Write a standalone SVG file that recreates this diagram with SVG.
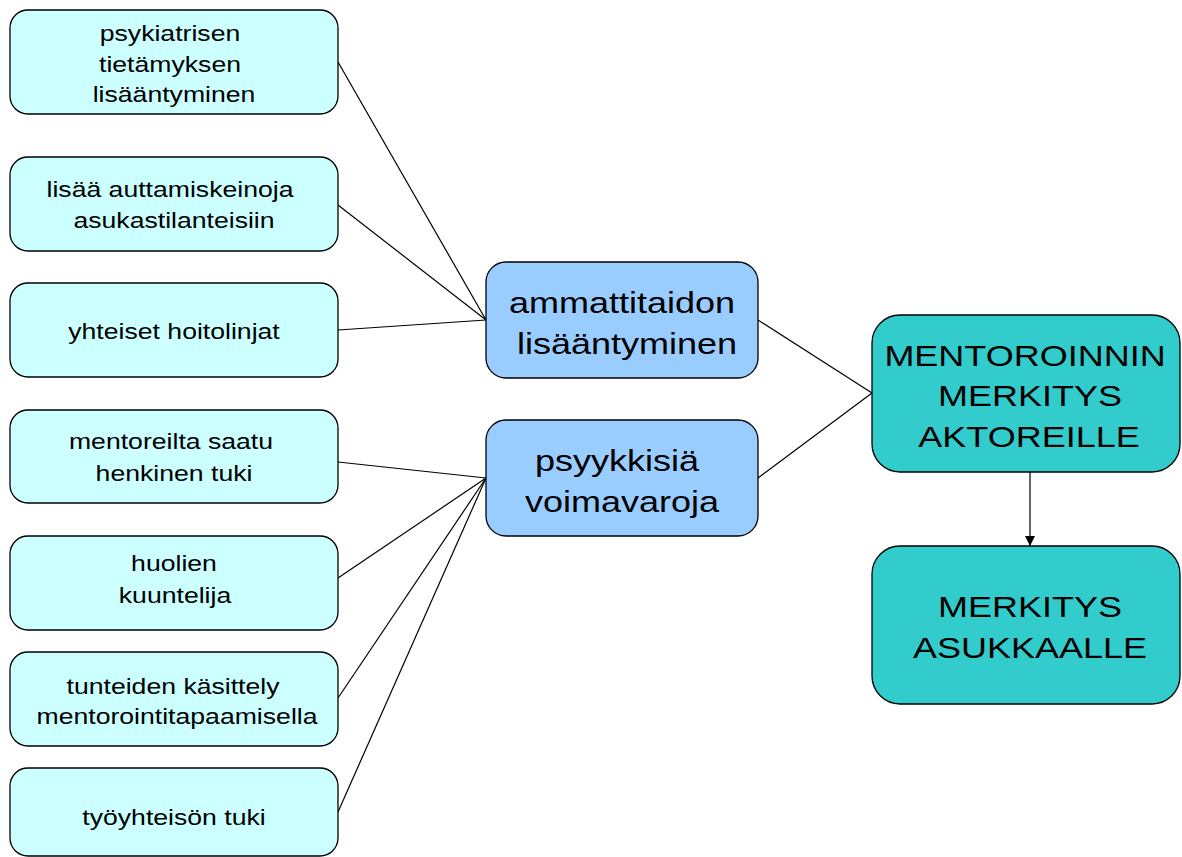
<svg xmlns="http://www.w3.org/2000/svg" width="1182" height="857" viewBox="0 0 1182 857">
<style>
.l{fill:#ccffff;stroke:#000;stroke-width:1.3}
.m{fill:#99ccff;stroke:#000;stroke-width:1.3}
.r{fill:#33cccc;stroke:#000;stroke-width:1.3}
text{font-family:"Liberation Sans",Arial,sans-serif;text-anchor:middle;fill:#000}
.ts{font-size:22px}
.tb{font-size:30px}
.c line{stroke:#000;stroke-width:1.2}
</style>
<defs>
<marker id="ah" viewBox="0 0 10 10" refX="10" refY="5" markerWidth="10" markerHeight="10" markerUnits="userSpaceOnUse" orient="auto"><path d="M0,0L10,5L0,10z" fill="#000"/></marker>
</defs>
<rect width="1182" height="857" fill="#fff"/>
<g class="c">
<line x1="338" y1="62" x2="486" y2="320"/>
<line x1="338" y1="205" x2="486" y2="320"/>
<line x1="338" y1="330" x2="486" y2="320"/>
<line x1="338" y1="462" x2="486" y2="478"/>
<line x1="338" y1="578" x2="486" y2="478"/>
<line x1="338" y1="698" x2="486" y2="478"/>
<line x1="338" y1="812" x2="486" y2="478"/>
<line x1="758" y1="320" x2="872" y2="393"/>
<line x1="758" y1="478" x2="872" y2="393"/>
<line x1="1030" y1="472" x2="1030" y2="546" marker-end="url(#ah)"/>
</g>
<g id="n1"><rect class="l" x="10" y="10" width="328" height="104" rx="18"/>
<text class="ts" transform="matrix(1.21 0 0 1 170 41)">psykiatrisen</text><text class="ts" transform="matrix(1.21 0 0 1 170 72)">tietämyksen</text><text class="ts" transform="matrix(1.21 0 0 1 174 102)">lisääntyminen</text></g>
<g id="n2"><rect class="l" x="10" y="157" width="328" height="94" rx="18"/>
<text class="ts" transform="matrix(1.21 0 0 1 170 197)">lisää auttamiskeinoja</text><text class="ts" transform="matrix(1.21 0 0 1 174 228)">asukastilanteisiin</text></g>
<g id="n3"><rect class="l" x="10" y="283" width="328" height="94" rx="18"/>
<text class="ts" transform="matrix(1.21 0 0 1 174 339)">yhteiset hoitolinjat</text></g>
<g id="n4"><rect class="l" x="10" y="410" width="328" height="93" rx="18"/>
<text class="ts" transform="matrix(1.21 0 0 1 171 449)">mentoreilta saatu</text><text class="ts" transform="matrix(1.21 0 0 1 174 481)">henkinen tuki</text></g>
<g id="n5"><rect class="l" x="10" y="536" width="328" height="94" rx="18"/>
<text class="ts" transform="matrix(1.21 0 0 1 174 571)">huolien</text><text class="ts" transform="matrix(1.21 0 0 1 175 603)">kuuntelija</text></g>
<g id="n6"><rect class="l" x="10" y="652" width="328" height="94" rx="18"/>
<text class="ts" transform="matrix(1.21 0 0 1 173 694)">tunteiden käsittely</text><text class="ts" transform="matrix(1.21 0 0 1 177 724)">mentorointitapaamisella</text></g>
<g id="n7"><rect class="l" x="10" y="768" width="328" height="88" rx="18"/>
<text class="ts" transform="matrix(1.21 0 0 1 174 825)">työyhteisön tuki</text></g>
<g id="a"><rect class="m" x="486" y="262" width="272" height="116" rx="20"/>
<text class="tb" transform="matrix(1.2 0 0 1 622 313)">ammattitaidon</text><text class="tb" transform="matrix(1.2 0 0 1 627 354)">lisääntyminen</text></g>
<g id="b"><rect class="m" x="486" y="420" width="272" height="116" rx="20"/>
<text class="tb" transform="matrix(1.2 0 0 1 617 471)">psyykkisiä</text><text class="tb" transform="matrix(1.2 0 0 1 622 512)">voimavaroja</text></g>
<g id="r1"><rect class="r" x="872" y="315" width="308" height="157" rx="28"/>
<text class="tb" transform="matrix(1.2 0 0 1 1025 366)">MENTOROINNIN</text><text class="tb" transform="matrix(1.2 0 0 1 1030 406)">MERKITYS</text><text class="tb" transform="matrix(1.2 0 0 1 1029 447)">AKTOREILLE</text></g>
<g id="r2"><rect class="r" x="872" y="546" width="308" height="158" rx="28"/>
<text class="tb" transform="matrix(1.2 0 0 1 1030 617)">MERKITYS</text><text class="tb" transform="matrix(1.2 0 0 1 1030 658)">ASUKKAALLE</text></g>
</svg>
